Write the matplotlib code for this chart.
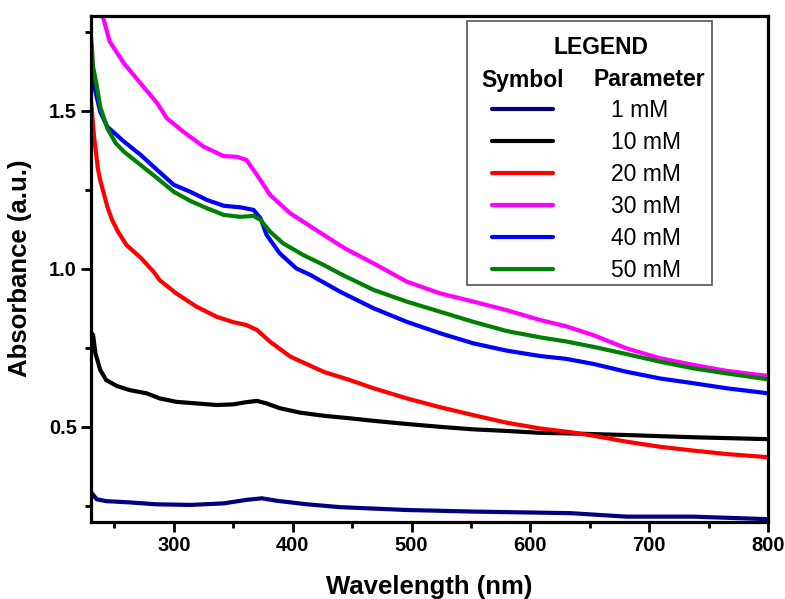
import matplotlib
matplotlib.use("Agg")
import matplotlib.pyplot as plt
from matplotlib.patches import Rectangle
from matplotlib.ticker import MultipleLocator

plt.rcParams['font.family'] = ['Liberation Sans', 'DejaVu Sans']

# absorbance, one (wavelength, value) list per sample
wl_1mM = [230, 231, 235, 243, 263, 285, 314, 342, 361, 374, 387, 412, 440, 496, 552, 634, 681, 737, 800]
ab_1mM = [0.295, 0.29, 0.271, 0.265, 0.261, 0.255, 0.253, 0.258, 0.269, 0.274, 0.266, 0.255, 0.246, 0.237, 0.232, 0.227, 0.216, 0.216, 0.208]

wl_10mM = [230, 232, 234, 238, 243, 252, 263, 277, 288, 302, 319, 336, 350, 361, 370, 378, 389, 406, 426,
           448, 468, 496, 524, 552, 580, 608, 634, 681, 737, 800]
ab_10mM = [0.80, 0.79, 0.732, 0.68, 0.648, 0.629, 0.616, 0.606, 0.59, 0.579, 0.574, 0.569, 0.571, 0.578, 0.582,
           0.574, 0.559, 0.545, 0.535, 0.527, 0.519, 0.509, 0.5, 0.492, 0.487, 0.481, 0.479, 0.474, 0.467, 0.461]

wl_20mM = [230, 231, 232, 233, 234, 235, 236, 238, 241, 244, 248, 253, 260, 272, 283, 288, 302, 319, 336, 350,
           361, 370, 381, 398, 426, 448, 468, 496, 524, 552, 580, 608, 634, 653, 681, 709, 737, 765, 800]
ab_20mM = [1.54, 1.50, 1.454, 1.412, 1.381, 1.349, 1.317, 1.28, 1.238, 1.196, 1.154, 1.117, 1.075, 1.035, 0.99,
           0.964, 0.922, 0.88, 0.848, 0.831, 0.822, 0.806, 0.769, 0.722, 0.674, 0.648, 0.622, 0.59, 0.562, 0.537,
           0.513, 0.495, 0.483, 0.472, 0.453, 0.437, 0.425, 0.414, 0.404]

wl_30mM = [236, 240, 246, 258, 272, 286, 294, 308, 325, 342, 353, 361, 370, 381, 398, 426, 444, 468, 496, 524,
           552, 580, 608, 630, 653, 681, 709, 737, 765, 800]
ab_30mM = [1.87, 1.80, 1.718, 1.649, 1.586, 1.523, 1.476, 1.433, 1.386, 1.356, 1.354, 1.344, 1.296, 1.233, 1.175,
           1.107, 1.064, 1.017, 0.959, 0.922, 0.896, 0.869, 0.838, 0.818, 0.79, 0.748, 0.717, 0.696, 0.677, 0.661]

wl_40mM = [230, 231, 234, 238, 244, 258, 272, 286, 300, 314, 328, 342, 356, 367, 373, 378, 389, 403, 415, 440,
           468, 496, 524, 552, 580, 608, 630, 653, 681, 709, 737, 765, 800]
ab_40mM = [1.63, 1.612, 1.56, 1.496, 1.449, 1.402, 1.36, 1.312, 1.265, 1.243, 1.217, 1.199, 1.194, 1.186, 1.159,
           1.107, 1.049, 1.001, 0.98, 0.927, 0.875, 0.832, 0.796, 0.764, 0.741, 0.724, 0.715, 0.699, 0.674, 0.653,
           0.638, 0.622, 0.606]

wl_50mM = [230, 231, 232, 235, 238, 244, 251, 258, 272, 286, 300, 314, 328, 342, 356, 367, 373, 381, 392, 409,
           426, 441, 468, 496, 524, 552, 580, 608, 630, 653, 681, 709, 737, 765, 800]
ab_50mM = [1.74, 1.702, 1.639, 1.581, 1.512, 1.444, 1.397, 1.37, 1.328, 1.286, 1.243, 1.214, 1.191, 1.17, 1.164,
           1.167, 1.154, 1.117, 1.08, 1.043, 1.012, 0.982, 0.933, 0.896, 0.864, 0.832, 0.803, 0.783, 0.77, 0.753,
           0.73, 0.706, 0.685, 0.669, 0.65]

series = [
    (wl_1mM, ab_1mM, "1 mM", "#000080"),
    (wl_10mM, ab_10mM, "10 mM", "#000000"),
    (wl_20mM, ab_20mM, "20 mM", "#ff0000"),
    (wl_30mM, ab_30mM, "30 mM", "#ff00ff"),
    (wl_40mM, ab_40mM, "40 mM", "#0000ff"),
    (wl_50mM, ab_50mM, "50 mM", "#008000"),
]

W, H = 785, 599
fig = plt.figure(figsize=(W / 100, H / 100), dpi=100)
ax = fig.add_axes([90.7 / W, 1 - 521.7 / H, (768 - 90.7) / W, (521.7 - 15.7) / H])

handles = []
for x, y, lab, col in series:
    ln, = ax.plot(x, y, color=col, lw=3.0, label=lab, solid_capstyle='round', solid_joinstyle='round')
    handles.append(ln)

ax.set_xlim(230, 800)
ax.set_ylim(0.2, 1.8)
ax.xaxis.set_major_locator(MultipleLocator(100))
ax.xaxis.set_minor_locator(MultipleLocator(50))
ax.yaxis.set_major_locator(MultipleLocator(0.5))
ax.yaxis.set_minor_locator(MultipleLocator(0.25))
ax.tick_params(which='major', direction='out', length=7, width=2, labelsize=14.5, pad=3)
ax.tick_params(which='minor', direction='out', length=4.5, width=2)
for lbl in ax.get_xticklabels() + ax.get_yticklabels():
    lbl.set_fontweight('bold')
for sp in ax.spines.values():
    sp.set_linewidth(2.3)

ax.set_xlabel("Wavelength (nm)", fontsize=18.5, fontweight='bold', labelpad=15)
ax.set_ylabel("Absorbance (a.u.)", fontsize=18.5, fontweight='bold', labelpad=12)

# legend box with its header rows
fig.patches.append(Rectangle((467 / W, 1 - 285 / H), (712 - 467) / W, (285 - 21) / H,
                             transform=fig.transFigure, fill=False, edgecolor='#555555', lw=1.2, zorder=5))
fig.text(601 / W, 1 - 47 / H, "LEGEND", ha='center', va='center', fontsize=16.5, fontweight='bold')
fig.text(523 / W, 1 - 80 / H, "Symbol", ha='center', va='center', fontsize=16.5, fontweight='bold')
fig.text(649 / W, 1 - 80 / H, "Parameter", ha='center', va='center', fontsize=16.5, fontweight='bold')

leg = ax.legend(handles=handles, loc='upper left', bbox_to_anchor=(492 / W, 1 - 99 / H),
                bbox_transform=fig.transFigure, frameon=False, fontsize=16.5,
                handlelength=2.65, handletextpad=2.55, labelspacing=0.39, borderpad=0, borderaxespad=0)

fig.savefig("out.png", dpi=100)
